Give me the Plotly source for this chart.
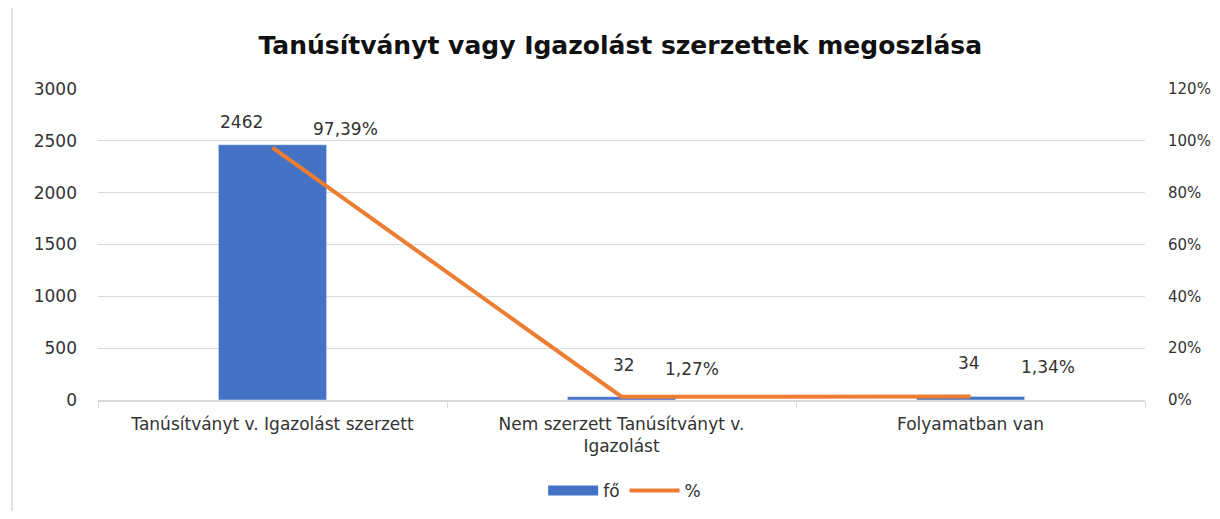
import plotly.graph_objects as go

categories = ["Tanúsítványt v. Igazolást szerzett",
              "Nem szerzett Tanúsítványt v.<br>Igazolást",
              "Folyamatban van"]
counts = [2462, 32, 34]
percents = [0.9739, 0.0127, 0.0134]
count_ticks = [0, 500, 1000, 1500, 2000, 2500, 3000]
pct_ticks = [0, 0.2, 0.4, 0.6, 0.8, 1.0, 1.2]

# label offsets (pixels) as placed in the original chart
count_label_dx = [-31, 2, -2]
count_label_dy = [23, 32, 33]
pct_label_dx = [73, 70, 77]
pct_label_dy = [19, 28, 30]

FONT = "DejaVu Sans"
TXT = "#333333"
FS = 17
BLUE = "#4472C4"
ORANGE = "#ED7D31"

fig = go.Figure()
fig.add_trace(go.Bar(x=categories, y=counts, name="fő", marker_color=BLUE,
                     width=0.31, yaxis="y", showlegend=False, legendgroup="fo"))
# legend entry for the bars drawn as a wide block like the original
fig.add_trace(go.Scatter(x=[None], y=[None], name="fő", mode="lines",
                         line=dict(color=BLUE, width=10), legendgroup="fo",
                         hoverinfo="skip"))
fig.add_trace(go.Scatter(x=categories, y=percents, name="%", mode="lines",
                         line=dict(color=ORANGE, width=4), yaxis="y2"))

def pct_text(v):
    return f"{v*100:.2f}".replace(".", ",") + "%"

for i, (c, n, p) in enumerate(zip(categories, counts, percents)):
    fig.add_annotation(x=c, y=n, yref="y", text=str(n), showarrow=False,
                       xshift=count_label_dx[i], yshift=count_label_dy[i],
                       font=dict(family=FONT, size=FS, color=TXT))
    fig.add_annotation(x=c, y=p, yref="y2", text=pct_text(p), showarrow=False,
                       xshift=pct_label_dx[i], yshift=pct_label_dy[i],
                       font=dict(family=FONT, size=FS, color=TXT))

fig.add_shape(type="line", xref="paper", yref="paper", x0=-0.0821, x1=-0.0821,
              y0=-0.5, y1=1.5, line=dict(color="#D9D9D9", width=1.5))

fig.update_layout(
    width=1210, height=503,
    margin=dict(l=90, r=73, t=81, b=111, autoexpand=False),
    paper_bgcolor="white", plot_bgcolor="white",
    separators=", ",
    title=dict(text="<b>Tanúsítványt vagy Igazolást szerzettek megoszlása</b>",
               x=0.506, xanchor="center", y=0.925, yanchor="middle",
               font=dict(family=FONT, size=25, color="#111111")),
    bargap=0.69,
    showlegend=True,
    legend=dict(orientation="h", x=0.503, xanchor="center", yref="container",
                y=0.04, yanchor="middle", traceorder="normal",
                font=dict(family=FONT, size=FS, color=TXT), itemwidth=50),
    xaxis=dict(showgrid=False, showline=True, linecolor="#D9D9D9", linewidth=1.5,
               ticks="outside", tickson="boundaries", tickcolor="#D9D9D9", ticklen=6,
               automargin=False, ticklabelstandoff=8,
               tickfont=dict(family=FONT, size=FS, color=TXT)),
    yaxis=dict(range=[0, 3000], tickvals=count_ticks, showgrid=True, gridcolor="#D9D9D9",
               gridwidth=1.3, zeroline=False, showline=False, ticklabelstandoff=20,
               automargin=False,
               tickfont=dict(family=FONT, size=FS, color=TXT)),
    yaxis2=dict(range=[0, 1.2], tickvals=pct_ticks, tickformat=".0%", overlaying="y",
                side="right", showgrid=False, zeroline=False, showline=False,
                ticklabelstandoff=22, automargin=False,
                tickfont=dict(family=FONT, size=15, color=TXT)),
)

fig.write_html("out.html")
